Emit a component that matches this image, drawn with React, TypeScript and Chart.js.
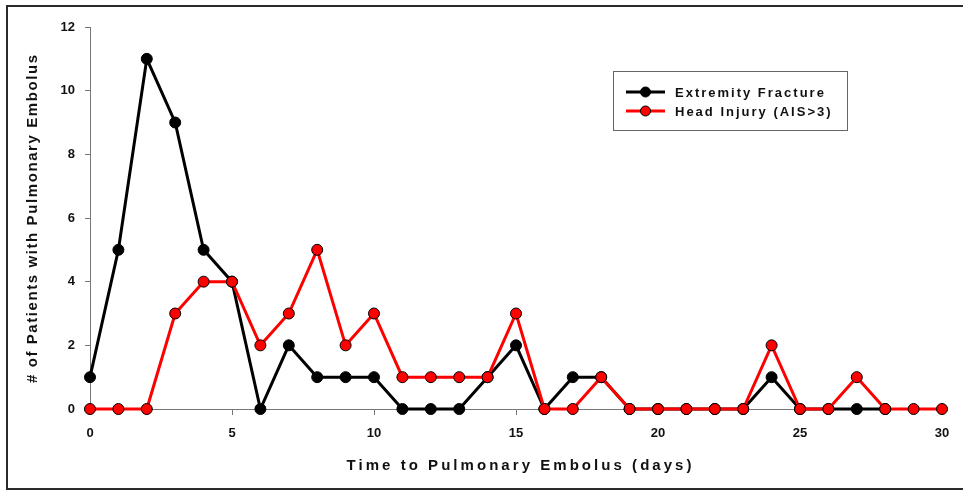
import React, { useEffect, useRef } from "react";
import { Chart, registerables } from "chart.js";

Chart.register(...registerables);

const days = Array.from({ length: 31 }, (_, i) => i);
const extremityFracture = [1, 5, 11, 9, 5, 4, 0, 2, 1, 1, 1, 0, 0, 0, 1, 2, 0, 1, 1, 0, 0, 0, 0, 0, 1, 0, 0, 0, 0, null, null];
const headInjury = [0, 0, 0, 3, 4, 4, 2, 3, 5, 2, 3, 1, 1, 1, 1, 3, 0, 0, 1, 0, 0, 0, 0, 0, 2, 0, 0, 1, 0, 0, 0];
const seriesLabels = ["Extremity Fracture", "Head Injury (AIS>3)"];
const xTitle = "Time to Pulmonary Embolus (days)";
const yTitle = "# of Patients with Pulmonary Embolus";

const FONT = "'Liberation Sans', Arial, sans-serif";

function drawSpaced(ctx: CanvasRenderingContext2D, text: string, x: number, y: number, width: number) {
  (ctx as any).letterSpacing = "0px";
  const w = ctx.measureText(text).width;
  const sp = (width - w) / (text.length - 1);
  (ctx as any).letterSpacing = `${sp}px`;
  ctx.textAlign = "left";
  ctx.fillText(text, x - width / 2, y);
  (ctx as any).letterSpacing = "0px";
}

const decorPlugin = {
  id: "decor",
  afterDraw(chart: any) {
    const ctx: CanvasRenderingContext2D = chart.ctx;
    ctx.save();
    // frame
    ctx.strokeStyle = "#2a2a2a";
    ctx.lineWidth = 2;
    ctx.beginPath();
    ctx.moveTo(970, 6);
    ctx.lineTo(7, 6);
    ctx.lineTo(7, 489);
    ctx.lineTo(970, 489);
    ctx.stroke();

    // axis titles
    ctx.fillStyle = "#111";
    ctx.font = `bold 15px ${FONT}`;
    ctx.textBaseline = "middle";
    drawSpaced(ctx, xTitle, 519, 466, 345);
    ctx.save();
    ctx.translate(33, 219);
    ctx.rotate(-Math.PI / 2);
    drawSpaced(ctx, yTitle, 0, 0, 328);
    ctx.restore();

    // legend
    const lx = 613, ly = 71, lw = 234, lh = 59;
    ctx.fillStyle = "#fff";
    ctx.fillRect(lx, ly, lw, lh);
    ctx.strokeStyle = "#666";
    ctx.lineWidth = 1;
    ctx.strokeRect(lx + 0.5, ly + 0.5, lw, lh);
    chart.data.datasets.forEach((ds: any, i: number) => {
      const cy = ly + 21 + i * 19;
      ctx.strokeStyle = ds.borderColor;
      ctx.lineWidth = 3;
      ctx.beginPath();
      ctx.moveTo(626, cy);
      ctx.lineTo(665, cy);
      ctx.stroke();
      ctx.beginPath();
      ctx.arc(645.5, cy, 5, 0, Math.PI * 2);
      ctx.fillStyle = ds.pointBackgroundColor;
      ctx.fill();
      ctx.strokeStyle = ds.pointBorderColor;
      ctx.lineWidth = 1;
      ctx.stroke();
      ctx.fillStyle = "#111";
      ctx.font = `bold 13px ${FONT}`;
      ctx.textBaseline = "middle";
      ctx.textAlign = "left";
      (ctx as any).letterSpacing = "2px";
      ctx.fillText(ds.label, 675, cy + 1);
      (ctx as any).letterSpacing = "0px";
    });
    ctx.restore();
  },
};

export default function App() {
  const ref = useRef<HTMLCanvasElement>(null);
  useEffect(() => {
    if (!ref.current) return;
    const chart = new Chart(ref.current, {
      type: "line",
      data: {
        labels: days,
        datasets: [
          {
            label: seriesLabels[0],
            data: extremityFracture,
            borderColor: "#000",
            backgroundColor: "#000",
            pointBackgroundColor: "#000",
            pointBorderColor: "#000",
            borderWidth: 3,
            pointRadius: 5.5,
            pointBorderWidth: 1,
            tension: 0,
            clip: false,
            order: 2,
          },
          {
            label: seriesLabels[1],
            data: headInjury,
            borderColor: "#ff0000",
            backgroundColor: "#ff0000",
            pointBackgroundColor: "#ff0000",
            pointBorderColor: "#000",
            borderWidth: 3,
            pointRadius: 5.5,
            pointBorderWidth: 1,
            tension: 0,
            clip: false,
            order: 1,
          },
        ],
      },
      options: {
        responsive: false,
        animation: false,
        layout: { padding: { top: 27, right: 21, left: 0, bottom: 0 } },
        plugins: { legend: { display: false }, tooltip: { enabled: false } },
        scales: {
          x: {
            type: "linear",
            min: 0,
            max: 30,
            afterFit: (s: any) => { s.height = 82; },
            ticks: { stepSize: 5, color: "#111", padding: 11, font: { family: FONT, size: 13, weight: "bold" } },
            grid: { display: true, drawOnChartArea: false, drawTicks: true, tickLength: 6, color: "#777" },
            border: { display: true, color: "#777", width: 1 },
          },
          y: {
            min: 0,
            max: 12,
            afterFit: (s: any) => { s.width = 90; },
            ticks: { stepSize: 2, color: "#111", padding: 10, font: { family: FONT, size: 13, weight: "bold" } },
            grid: { display: true, drawOnChartArea: false, drawTicks: true, tickLength: 5, color: "#777" },
            border: { display: true, color: "#777", width: 1 },
          },
        },
      },
      plugins: [decorPlugin],
    });
    return () => chart.destroy();
  }, []);
  return (
    <div style={{ position: "absolute", left: 0, top: 0, width: 963, height: 491, background: "#fff" }}>
      <canvas ref={ref} width={963} height={491} style={{ width: 963, height: 491 }} />
    </div>
  );
}
